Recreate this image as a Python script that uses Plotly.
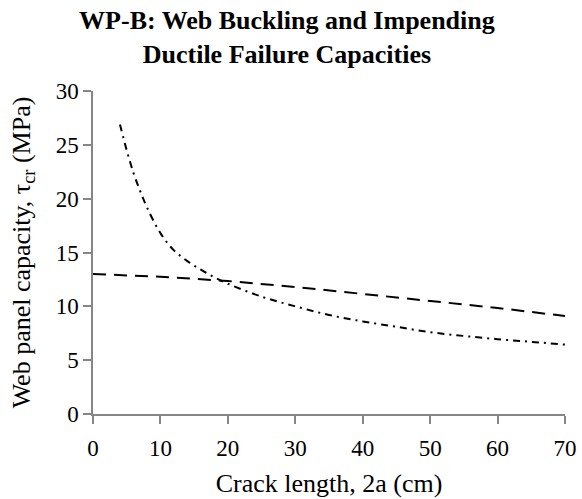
import plotly.graph_objects as go

# Web buckling capacity (dashed)
x_buckling = [0, 10, 20, 30, 40, 50, 60, 70]
y_buckling = [13.0, 12.75, 12.35, 11.8, 11.15, 10.5, 9.85, 9.1]

# Impending ductile failure capacity (dash-dot)
x_ductile = [4, 5, 6, 7, 8, 10, 12, 14, 16, 18, 20, 25, 30, 35, 40, 45, 50, 55, 60, 65, 70]
y_ductile = [26.9, 24.5, 22.4, 20.7, 19.2, 16.8, 15.2, 14.2, 13.4, 12.7, 12.1, 10.9,
             10.0, 9.2, 8.6, 8.1, 7.6, 7.25, 6.95, 6.7, 6.45]

x_ticks = [0, 10, 20, 30, 40, 50, 60, 70]
y_ticks = [0, 5, 10, 15, 20, 25, 30]

serif = "Liberation Serif, Times New Roman, serif"

fig = go.Figure()
fig.add_trace(go.Scatter(x=x_buckling, y=y_buckling, mode="lines",
                         line=dict(color="black", width=2, dash="13px,8px"),
                         showlegend=False))
fig.add_trace(go.Scatter(x=x_ductile, y=y_ductile, mode="lines", line_shape="spline",
                         line=dict(color="black", width=2, dash="7px,5px,2px,5px"),
                         showlegend=False))

axis_common = dict(showgrid=False, zeroline=False, showline=True, linecolor="#868686",
                   linewidth=1.5, ticks="outside", ticklen=8, tickcolor="#868686",
                   tickwidth=1.5, automargin=False,
                   tickfont=dict(family=serif, size=23, color="black"))

fig.update_layout(
    width=582, height=499,
    margin=dict(l=93, r=17, t=91, b=85),
    paper_bgcolor="white", plot_bgcolor="white",
    title=dict(text="<b>WP-B: Web Buckling and Impending<br>Ductile Failure Capacities</b>",
               x=0.493, xref="container", xanchor="center", y=0.941, yref="container",
               yanchor="top",
               font=dict(family=serif, size=26, color="black")),
    xaxis=dict(range=[0, 70], tickvals=x_ticks, ticklabelstandoff=5, **axis_common,
               title=dict(text="Crack length, 2a (cm)", standoff=13,
                          font=dict(family=serif, size=26, color="black"))),
    yaxis=dict(range=[0, 30], tickvals=y_ticks, ticksuffix="\u00a0\u00a0", **axis_common,
               title=dict(text="Web panel capacity, τ<sub>cr</sub> (MPa)", standoff=18,
                          font=dict(family=serif, size=26, color="black"))),
)

fig.write_html("out.html")
